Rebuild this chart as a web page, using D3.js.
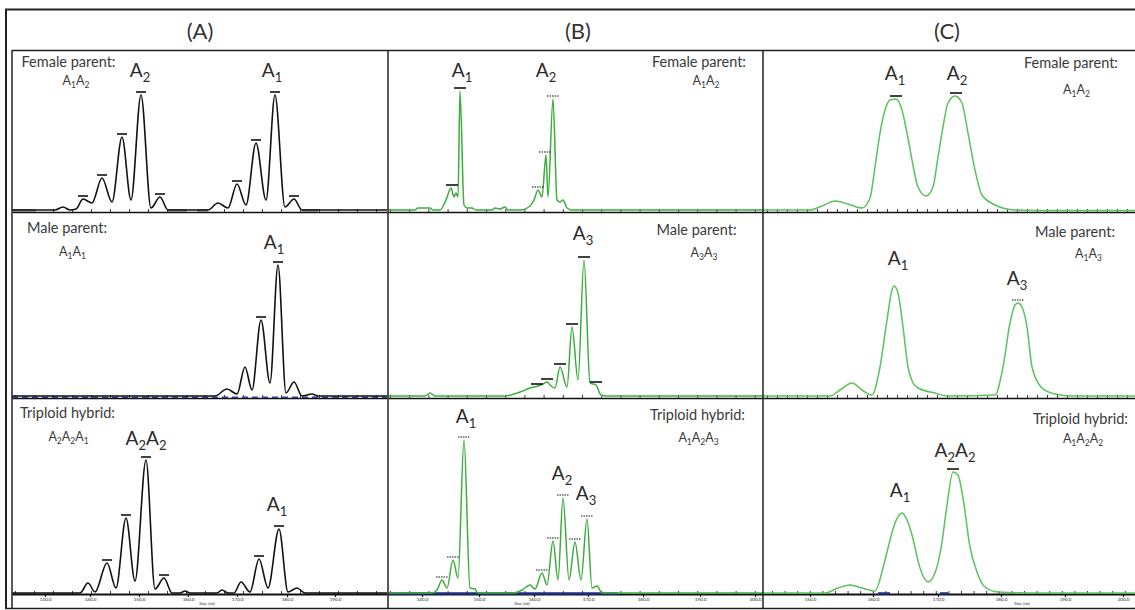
<!DOCTYPE html>
<html><head><meta charset="utf-8">
<script src="https://cdn.jsdelivr.net/npm/d3@7"></script>
<style>body{margin:0;background:#fff}svg{display:block}</style>
</head><body>
<svg id="c" width="1135" height="610"></svg>
<script>
// ---------------- DATA ----------------
const panelTitles = ["(A)", "(B)", "(C)"];
const sampleNames = ["Female parent:", "Male parent:", "Triploid hybrid:"];
// genotypes[row][col]; {n} = subscript
const genotypes = [
  ["A{1}A{2}", "A{1}A{2}", "A{1}A{2}"],
  ["A{1}A{1}", "A{3}A{3}", "A{1}A{3}"],
  ["A{2}A{2}A{1}", "A{1}A{2}A{3}", "A{1}A{2}A{2}"]
];

// traces: [scan point, RFU]
const traceA1 = [[0,20],[43,20],[51,50],[58,20],[64,30],[71,130],[80,90],[90,340],[100,100],[110,750],[119,120],[129,1170],[139,40],[148,150],[156,20],[196,20],[206,90],[216,40],[225,280],[234,70],[244,690],[254,120],[263,1170],[273,50],[282,130],[290,20],[375,20]];
const traceA2 = [[0,20],[203,20],[215,90],[225,40],[233,310],[240,80],[249,780],[258,150],[266,1330],[274,50],[282,160],[290,20],[300,40],[306,20],[375,20]];
const traceA3 = [[0,10],[68,10],[76,110],[83,20],[95,310],[104,60],[114,760],[123,130],[134,1340],[143,50],[152,160],[160,10],[168,10],[173,30],[178,10],[205,10],[210,40],[216,10],[222,10],[229,120],[238,20],[247,350],[256,60],[267,650],[276,20],[285,60],[293,10],[375,10]];
const traceB1 = [[0,20],[27,20],[30,40],[42,40],[45,20],[52,20],[58,120],[63,240],[66,150],[68,190],[70,150],[72,1210],[76,70],[79,40],[84,40],[88,20],[104,20],[107,40],[112,30],[117,50],[120,20],[132,20],[142,60],[146,120],[150,220],[154,150],[158,570],[160,150],[165,1130],[169,120],[172,100],[175,120],[179,40],[184,20],[375,20]];
const traceB2 = [[0,20],[37,20],[42,50],[47,20],[117,20],[132,60],[142,100],[150,120],[155,140],[159,160],[163,120],[167,100],[172,310],[179,110],[184,710],[190,180],[196,1380],[202,150],[208,130],[213,30],[219,20],[375,20]];
const traceB3 = [[0,10],[44,10],[49,40],[54,140],[59,60],[65,340],[70,160],[76,1540],[82,60],[87,50],[90,10],[125,10],[134,40],[142,90],[147,50],[154,210],[159,90],[165,530],[170,140],[175,960],[181,140],[187,520],[193,140],[199,750],[204,60],[209,80],[214,10],[375,10]];
const traceC1 = [[0,20],[47,20],[59,60],[72,110],[85,80],[99,40],[107,140],[112,450],[117,790],[122,1020],[127,1120],[133,1130],[139,1020],[144,790],[149,520],[155,250],[163,160],[170,250],[175,550],[180,850],[185,1090],[192,1160],[199,1090],[205,790],[212,420],[219,170],[232,70],[252,20],[272,15],[375,15]];
const traceC2 = [[0,20],[67,20],[77,80],[89,150],[99,80],[109,30],[117,310],[124,780],[129,1080],[131,1120],[135,1050],[140,710],[145,310],[150,150],[155,100],[172,50],[185,20],[232,30],[240,310],[247,750],[252,930],[255,950],[259,910],[264,710],[269,310],[279,100],[292,40],[309,20],[375,20]];
const traceC3 = [[0,10],[62,10],[75,60],[87,90],[99,60],[112,30],[120,260],[125,460],[132,710],[139,810],[144,740],[149,590],[157,260],[165,120],[174,270],[179,520],[184,890],[190,1220],[195,1190],[200,960],[207,470],[214,220],[222,70],[235,20],[265,10],[375,10]];

// called peaks (bin markers): [scan, RFU, dotted]
const callsA1 = [[71,130,0],[90,340,0],[110,750,0],[129,1170,0],[148,150,0],[225,280,0],[244,690,0],[263,1170,0],[282,130,0]];
const callsA2 = [[249,780,0],[266,1330,0]];
const callsA3 = [[95,310,0],[114,760,0],[134,1340,0],[152,160,0],[247,350,0],[267,650,0]];
const callsB1 = [[64,240,0],[72,1210,0],[150,220,1],[157,570,1],[165,1130,1]];
const callsB2 = [[149,110,0],[159,160,0],[172,310,0],[184,710,0],[196,1380,0],[208,130,0]];
const callsB3 = [[54,140,1],[65,340,1],[76,1540,1],[154,210,1],[165,530,1],[175,960,1],[187,520,1],[199,750,1]];
const callsC1 = [[133,1130,0],[193,1160,0]];
const callsC2 = [[255,950,1]];
const callsC3 = [[190,1220,0]];

// allele labels: [scan, RFU, text]
const allelesA1 = [[128,1350,"A{2}"],[260,1350,"A{1}"]];
const allelesA2 = [[262,1490,"A{1}"]];
const allelesA3 = [[134,1490,"A{2}A{2}"],[265,830,"A{1}"]];
const allelesB1 = [[74,1350,"A{1}"],[158,1350,"A{2}"]];
const allelesB2 = [[195,1580,"A{3}"]];
const allelesB3 = [[78,1710,"A{1}"],[174,1140,"A{2}"],[198,940,"A{3}"]];
const allelesC1 = [[132,1320,"A{1}"],[194,1320,"A{2}"]];
const allelesC2 = [[135,1330,"A{1}"],[254,1130,"A{3}"]];
const allelesC3 = [[137,970,"A{1}"],[192,1370,"A{2}A{2}"]];

// size axis (bottom row)
const tickPosA = [33,78,127,176,225,275,323];
const tickLabA = ["130.0","140.0","150.0","160.0","170.0","180.0","190.0"];
const tickPosB = [34,91,146,200,255,312,367];
const tickLabB = ["140.0","150.0","160.0","170.0","180.0","190.0","200.0"];
const tickPosC = [47,110,175,238,302,360];
const tickLabC = ["150.0","160.0","170.0","180.0","190.0","200.0"];
const axisTitle = "Size (nt)";

// dye baseline segments: [from, to]
const greyBaseA1 = [[1,24],[156,175],[185,196],[290,306]];
const blueBaseB3 = [[0,230]];
const blueBaseC3 = [[115,127],[177,185]];

// ---------------- LAYOUT ----------------
const W = 1135, H = 610;
const colX = [12, 388, 763], colW = 375;
const rowTop = [50, 212, 398], rowBase = [212, 398, 594];
const headerX = [200, 578, 947];
const titleCX = [[68.5,699,1071],[67,696.5,1075],[67.5,697.5,1080.5]];
const titleY = [[67,67,68],[233,235,237],[418,420,424]];
const genoCX = [[76,706,1076.5],[72.5,704,1088.5],[68.5,698.5,1083]];
const genoY = [[85,85,94],[256,257,258],[441,442,443]];
const FONT = "Lato, 'Open Sans', sans-serif";
const colColor = ["#111111", "#3cad3c", "#5bc25b"];
const minorStep = [19, 19.2, 10];
const minorStart = [3, 2, 4];
const markW = [10, 12, 12];

const svg = d3.select("#c").attr("font-family", FONT);

function rich(t, s, subSize, shift) {
  const parts = s.split(/(\{\d\})/).filter(p => p.length);
  let down = false;
  parts.forEach(p => {
    if (p[0] === "{") {
      t.append("tspan").attr("font-size", subSize).attr("dy", shift).text(p.slice(1, -1));
      down = true;
    } else {
      const ts = t.append("tspan").text(p);
      if (down) { ts.attr("dy", -shift); down = false; }
    }
  });
}

const panels = [
  [traceA1, callsA1, allelesA1], [traceB1, callsB1, allelesB1], [traceC1, callsC1, allelesC1],
  [traceA2, callsA2, allelesA2], [traceB2, callsB2, allelesB2], [traceC2, callsC2, allelesC2],
  [traceA3, callsA3, allelesA3], [traceB3, callsB3, allelesB3], [traceC3, callsC3, allelesC3]
];
const tickPos = [tickPosA, tickPosB, tickPosC];
const tickLab = [tickLabA, tickLabB, tickLabC];
const titleXAt = [195, 134, 259];

panels.forEach((p, i) => {
  const r = Math.floor(i / 3), c = i % 3;
  const [trace, calls, alleles] = p;
  const x = d3.scaleLinear().domain([0, 375]).range([colX[c], colX[c] + colW]);
  const y = d3.scaleLinear().domain([0, (rowBase[r] - rowTop[r]) * 10]).range([rowBase[r], rowTop[r]]);
  const g = svg.append("g");

  // minor ticks + axis line
  const minor = d3.range(minorStart[c] + (r === 2 && c === 2 ? 5 : 0), 375, r === 2 && c === 2 ? 12.6 : minorStep[c]);
  const ax = g.append("g").attr("transform", `translate(0,${rowBase[r]})`)
    .call(d3.axisBottom(x).tickValues(minor).tickSize(-3).tickSizeOuter(0).tickFormat(""));
  ax.select(".domain").attr("stroke", "#111").attr("stroke-width", r === 2 ? 2 : 1.6);
  ax.selectAll(".tick line").attr("stroke", "#222").attr("stroke-width", 0.9);

  if (r === 2) {
    const ax2 = g.append("g").attr("transform", `translate(0,${rowBase[r]})`)
      .call(d3.axisBottom(x).tickValues(tickPos[c]).tickSize(3).tickSizeOuter(0)
        .tickPadding(1).tickFormat((d, k) => tickLab[c][k]));
    ax2.select(".domain").remove();
    ax2.selectAll(".tick line").attr("stroke", "#111").attr("stroke-width", 1.2);
    ax2.selectAll(".tick text").attr("font-size", 4.5).attr("fill", "#222").attr("font-family", FONT);
    g.append("text").attr("x", x(titleXAt[c])).attr("y", rowBase[r] + 11)
      .attr("text-anchor", "middle").attr("font-size", 4.5).attr("fill", "#222").text(axisTitle);
  }

  // dye baselines
  if (r === 0 && c === 0) {
    g.selectAll("line.gb").data(greyBaseA1).join("line")
      .attr("x1", d => x(d[0])).attr("x2", d => x(d[1]))
      .attr("y1", y(15)).attr("y2", y(15)).attr("stroke", "#8a8a8a").attr("stroke-width", 3);
  }
  if (r === 1 && c === 0) {
    g.append("line").attr("x1", x(0)).attr("x2", x(375)).attr("y1", y(8)).attr("y2", y(8))
      .attr("stroke", "#2a3f9a").attr("stroke-width", 1.6).attr("stroke-dasharray", "6,4");
  }
  if (r === 2 && c > 0) {
    g.selectAll("line.bb").data(c === 1 ? blueBaseB3 : blueBaseC3).join("line")
      .attr("x1", d => x(d[0])).attr("x2", d => x(d[1]))
      .attr("y1", y(5)).attr("y2", y(5)).attr("stroke", "#1c2c80").attr("stroke-width", 2.5);
  }

  // trace
  const line = d3.line().x(d => x(d[0])).y(d => y(d[1])).curve(d3.curveMonotoneX);
  g.append("path").datum(trace).attr("d", line).attr("fill", "none")
    .attr("stroke", colColor[c]).attr("stroke-width", c === 0 ? 1.6 : 1.5)
    .attr("stroke-linejoin", "round");

  // peak call markers
  g.selectAll("line.mk").data(calls).join("line")
    .attr("x1", d => x(d[0]) - markW[c] / 2).attr("x2", d => x(d[0]) + markW[c] / 2)
    .attr("y1", d => y(d[1]) - 3).attr("y2", d => y(d[1]) - 3)
    .attr("stroke", "#111").attr("stroke-width", d => d[2] ? 1 : 1.6)
    .attr("stroke-dasharray", d => d[2] ? "1.5,1" : null);

  // allele labels
  alleles.forEach(a => {
    const t = g.append("text").attr("x", x(a[0])).attr("y", y(a[1]))
      .attr("text-anchor", "middle").attr("font-size", 19).attr("fill", "#2a2a2a");
    rich(t, a[2], 13, 5);
  });

  // sample labels
  g.append("text").attr("x", titleCX[r][c]).attr("y", titleY[r][c]).attr("text-anchor", "middle")
    .attr("font-size", 14.5).attr("fill", "#3a3a3a").text(sampleNames[r]);
  const gt = g.append("text").attr("x", genoCX[r][c]).attr("y", genoY[r][c]).attr("text-anchor", "middle")
    .attr("font-size", 12.5).attr("fill", "#3a3a3a");
  rich(gt, genotypes[r][c], 8.5, 3);
});

// headers
svg.selectAll("text.hdr").data(panelTitles).join("text").attr("class", "hdr")
  .attr("x", (d, i) => headerX[i]).attr("y", 39).attr("text-anchor", "middle")
  .attr("font-size", 22).attr("fill", "#333").text(d => d);

// frame
const fr = svg.append("g").attr("stroke", "#222").attr("fill", "none");
fr.append("line").attr("x1", 5).attr("x2", W).attr("y1", 9.5).attr("y2", 9.5).attr("stroke-width", 2);
fr.append("line").attr("x1", 6).attr("x2", 6).attr("y1", 9).attr("y2", 609).attr("stroke-width", 2);
fr.append("line").attr("x1", 5).attr("x2", W).attr("y1", 608.5).attr("y2", 608.5).attr("stroke-width", 1.5);
fr.append("line").attr("x1", 12).attr("x2", 12).attr("y1", 50).attr("y2", 608).attr("stroke-width", 1.5);
fr.append("line").attr("x1", 12).attr("x2", W).attr("y1", 50.5).attr("y2", 50.5).attr("stroke-width", 1.5);
[388, 763].forEach(xx => fr.append("line").attr("x1", xx).attr("x2", xx).attr("y1", 50).attr("y2", 608).attr("stroke-width", 1.5));
</script>
</body></html>
